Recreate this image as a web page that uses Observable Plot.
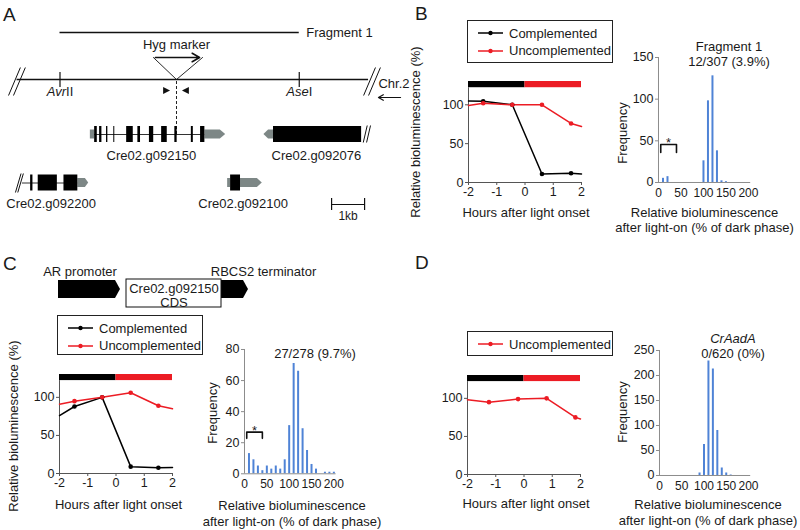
<!DOCTYPE html>
<html><head><meta charset="utf-8">
<script src="https://cdn.jsdelivr.net/npm/d3@7"></script>
<script src="https://cdn.jsdelivr.net/npm/@observablehq/plot@0.6"></script>
<style>
html,body{margin:0;padding:0;background:#fff;}
#fig{position:relative;width:800px;height:530px;overflow:hidden;background:#fff;font-family:"Liberation Sans",Arial,Helvetica,sans-serif;color:#1a1a1a;}
#fig svg{position:absolute;overflow:visible;background:transparent;max-width:none;}
.lbl{position:absolute;white-space:nowrap;line-height:1;}
.legend{position:absolute;border:1px solid #222;box-sizing:border-box;background:#fff;}
</style></head><body><div id="fig"></div>
<script>
// ================= DATA =================
// ---- line charts (relative bioluminescence, %) ----
const seriesNames = ["Complemented", "Uncomplemented"];
const hourTicks = [-2, -1, 0, 1, 2];
const bioTicks = [0, 50, 100];
const phaseNames = ["dark", "light"];
const phaseStart = [-2, 0];
const phaseEnd = [0, 2];

const bHours = [-2, -1.48, -0.45, 0.6, 1.63, 2];
const bComplemented = [105, 104.5, 100, 11, 12, 11];
const bUncomplemented = [99, 102, 100, 100, 76, 72];

const cHours = [-2, -1.47, -0.49, 0.52, 1.5, 2];
const cComplemented = [76, 88, 100, 9, 7.5, 8];
const cUncomplemented = [91, 95, 100, 106, 89, 85];

const dHours = [-2, -1.24, -0.21, 0.8, 1.82, 2];
const dUncomplemented = [98, 95, 99, 100, 75, 73];

// ---- histograms (frequency per 10 % bin) ----
const bins = [10, 20, 30, 40, 50, 60, 70, 80, 90, 100, 110, 120, 130, 140, 150, 160, 170, 180, 190, 200];
const bFreq = [5, 7, 0, 0, 0, 0, 0, 0, 0, 26, 98, 128, 38, 2, 1, 0, 0, 0, 0, 0];
const cFreq = [13, 9, 5, 2, 5, 3, 5, 3, 9, 31, 71, 66, 29, 15, 6, 3, 0, 1, 1, 1];
const dFreq = [0, 0, 0, 0, 0, 0, 0, 0, 5, 62, 229, 213, 90, 15, 5, 1, 0, 0, 0, 0];
const freqXTicks = [0, 50, 100, 150, 200];
const bFreqTicks = [0, 50, 100, 150];
const cFreqTicks = [0, 20, 40, 60, 80];
const dFreqTicks = [0, 50, 100, 150, 200, 250];
const bBracket = {from: 5, to: 40, top: 45.5, bottom: 36};
const cBracket = {from: 5, to: 40, top: 26.8, bottom: 22.8};
const bHistTitle = ["Fragment 1", "12/307 (3.9%)"];
const cHistTitle = ["27/278 (9.7%)"];
const dHistTitle = ["CrAadA", "0/620 (0%)"];

// ---- panel A gene map (kb) ----
const fragment1 = {name: "Fragment 1", start: 1.5, end: 8.75};
const chromosome = {name: "Chr.2", start: 0.2, end: 10.85};
const restrictionSites = [{italic: "Avr", roman: "II", kb: 1.5}, {italic: "Ase", roman: "I", kb: 8.75}];
const insertionKb = 5.03;
const hygArrow = {name: "Hyg marker", start: 4.39, end: 5.73};
const hygFlank = [4.33, 5.82];
const primers = [{id: "F", kb: 4.64, dir: 1}, {id: "R", kb: 5.42, dir: -1}];
const chrArrow = {start: 11.82, end: 11.15};
const scaleBar = {name: "1kb", start: 9.73, end: 10.73};
const breakMarks = [
  {x1: -0.06, y1: 95, x2: 0.30, y2: 67}, {x1: 0.09, y1: 95, x2: 0.45, y2: 67},
  {x1: 10.70, y1: 95, x2: 11.06, y2: 67}, {x1: 10.85, y1: 95, x2: 11.21, y2: 67},
  {x1: 10.69, y1: 142, x2: 10.81, y2: 125}, {x1: 10.79, y1: 142, x2: 10.91, y2: 125},
  {x1: 0.15, y1: 192, x2: 0.32, y2: 173}, {x1: 0.22, y1: 192, x2: 0.39, y2: 173}
];
const genes = [
  {name: "Cre02.g092150", row: 1, labelKb: 4.27, intron: [2.55, 5.89],
   exons: [[2.55,2.63],[2.70,2.77],[2.91,2.95],[3.13,3.16],[3.52,3.72],[3.86,3.94],[4.21,4.34],[4.58,4.75],[4.98,5.05],[5.48,5.54],[5.76,5.89]],
   utr: [[[2.42,1],[2.55,1]], [[5.89,1],[6.36,1],[6.52,0]]]},
  {name: "Cre02.g092076", row: 1, labelKb: 9.27, intron: null,
   exons: [[7.97,10.64]], utr: [[[7.68,0],[7.82,1],[7.97,1]]]},
  {name: "Cre02.g092200", row: 2, labelKb: 1.23, intron: [0.36, 2.04],
   exons: [[0.61,0.68],[0.84,1.42],[1.62,2.04]], utr: [[[2.04,1],[2.27,1],[2.37,0]]]},
  {name: "Cre02.g092100", row: 2, labelKb: 7.05, intron: null,
   exons: [[6.67,6.97]], utr: [[[6.58,1],[6.67,1]], [[6.97,1],[7.48,1],[7.63,0]]]}
];
// ---- panel C construct ----
const constructNames = ["AR promoter", "Cre02.g092150\nCDS", "RBCS2 terminator"];
const constructKinds = ["arrow", "box", "arrow"];
const constructStart = [58, 126, 221];
const constructEnd = [120, 221, 248];
const constructLabelX = [79.5, 173.5, 263];

// ================= STYLE / LAYOUT =================
const FONT = '"Liberation Sans", Arial, Helvetica, sans-serif';
const TEXT = "#1a1a1a", AXIS_LINE = "#555", AXIS_HIST = "#8c8c8c";
const BLUE = "#4f83d6", RED = "#ec1c24", UTR_GRAY = "#7d8786";
const seriesColor = {Complemented: "#000000", Uncomplemented: RED};
const phaseColor = {dark: "#000000", light: RED};
const fig = document.getElementById("fig");

function label(text, x, y, {size = 13, rotate = 0, italic = false, anchor = "middle"} = {}) {
  const d = document.createElement("div");
  d.className = "lbl"; d.textContent = text;
  d.style.left = x + "px"; d.style.top = y + "px"; d.style.fontSize = size + "px";
  d.style.fontStyle = italic ? "italic" : "normal";
  const tx = anchor === "start" ? "0" : anchor === "end" ? "-100%" : "-50%";
  d.style.transform = `translate(${tx},-50%)` + (rotate ? ` rotate(${rotate}deg)` : "");
  fig.appendChild(d);
}
function place(svg, left, top) {
  svg.style.left = left + "px"; svg.style.top = top + "px";
  fig.appendChild(svg);
}
function legend(left, top, width, height, names) {
  const box = document.createElement("div");
  box.className = "legend";
  Object.assign(box.style, {left: left + "px", top: top + "px", width: width + "px", height: height + "px"});
  names.forEach((name, i) => {
    const cy = 12 + i * 17.5;
    const c = seriesColor[name];
    const row = document.createElement("div");
    row.style.cssText = `position:absolute;left:10px;top:${cy - 8}px;height:16px;display:flex;align-items:center;font-size:13px;white-space:nowrap;`;
    row.innerHTML = `<svg width="26" height="6" style="position:static;margin-right:5px"><line x1="0" y1="3" x2="25" y2="3" stroke="${c}" stroke-width="1.5"/><circle cx="12.5" cy="3" r="2.2" fill="${c}"/></svg><span>${name}</span>`;
    box.appendChild(row);
  });
  fig.appendChild(box);
}
const phases = phaseNames.map((p, i) => ({phase: p, from: phaseStart[i], to: phaseEnd[i]}));

function lineChart(hours, seriesVals, area) {
  const rows = Object.entries(seriesVals).flatMap(([name, vals]) =>
    hours.map((h, i) => ({series: name, hour: h, value: vals[i]})));
  const ml = 34, mr = 6, mt = 2, mb = 22;
  const svg = Plot.plot({
    width: area.right - area.left + ml + mr, height: area.bottom - area.top + mt + mb,
    marginLeft: ml, marginRight: mr, marginTop: mt, marginBottom: mb,
    style: {fontFamily: FONT, fontSize: "12.5px", color: TEXT, background: "transparent", overflow: "visible"},
    x: {domain: [-2, 2], axis: null}, y: {domain: [0, 130], axis: null}, color: {type: "identity"},
    marks: [
      Plot.rect(phases, {x1: "from", x2: "to", y1: 122, y2: 130, fill: d => phaseColor[d.phase]}),
      Plot.ruleY([0], {stroke: AXIS_LINE}),
      Plot.ruleX([-2], {y1: 0, y2: 122, stroke: AXIS_LINE}),
      Plot.axisX({ticks: hourTicks, tickSize: 3, tickPadding: 2, tickFormat: d => String(d), stroke: AXIS_LINE, fill: TEXT, label: null}),
      Plot.axisY({ticks: bioTicks, tickSize: 3, tickPadding: 2, stroke: AXIS_LINE, fill: TEXT, label: null}),
      Plot.line(rows, {x: "hour", y: "value", z: "series", stroke: d => seriesColor[d.series], strokeWidth: 1.5}),
      Plot.dot(rows.filter(d => d.hour > -2 && d.hour < 2), {x: "hour", y: "value", fill: d => seriesColor[d.series], r: 2.3, stroke: "none"})
    ]
  });
  place(svg, area.left - ml, area.top - mt);
}

function histogram(freq, yTicks, ymax, area, bracket) {
  const data = bins.map((b, i) => ({bin: b, count: freq[i]})).filter(d => d.count > 0);
  const ml = 34, mr = 8, mt = 4, mb = 20;
  const marks = [
    Plot.ruleX(data, {x: "bin", y1: 0, y2: "count", stroke: BLUE, strokeWidth: 2}),
    Plot.ruleY([0], {stroke: AXIS_HIST}),
    Plot.ruleX([0], {y1: 0, y2: ymax, stroke: AXIS_HIST}),
    Plot.axisX({ticks: freqXTicks, tickSize: 0, tickPadding: 6, stroke: AXIS_HIST, fill: TEXT, label: null, fontSize: 12}),
    Plot.axisY({ticks: yTicks, tickSize: 3, tickPadding: 2, stroke: AXIS_HIST, fill: TEXT, label: null})
  ];
  if (bracket) {
    const b = bracket;
    marks.push(Plot.line([{x: b.from, y: b.bottom}, {x: b.from, y: b.top}, {x: b.to, y: b.top}, {x: b.to, y: b.bottom}],
      {x: "x", y: "y", stroke: "#111", strokeWidth: 1.6}));
    marks.push(Plot.text(["*"], {x: (b.from + b.to) / 2, y: b.top, dy: -1.5, text: d => d, fontSize: 13, fill: TEXT}));
  }
  const svg = Plot.plot({
    width: area.right - area.left + ml + mr, height: area.bottom - area.top + mt + mb,
    marginLeft: ml, marginRight: mr, marginTop: mt, marginBottom: mb,
    style: {fontFamily: FONT, fontSize: "12.5px", color: TEXT, background: "transparent", overflow: "visible"},
    x: {domain: [0, 205], axis: null}, y: {domain: [0, ymax], axis: null},
    marks
  });
  place(svg, area.left - ml, area.top - mt);
}

// ================= PANEL A =================
(function panelA() {
  const Y = {fragment: 32, hygText: 44, hygArrow: 57, chromosome: 79, siteTop: 72, siteBottom: 87, siteLabel: 91,
             primer: 90.5, primerHalf: 3.5, row1: 134, row2: 182.5, label1: 155, label2: 203.5,
             scale: 204, scaleTick: 6, scaleLabel: 216, chrText: 83, chrArrow: 97};
  const rowY = r => r === 1 ? Y.row1 : Y.row2;
  const exonHalf = 8, utrHalf = 4.5;
  const ctx = document.createElement("canvas").getContext("2d");
  const w = (t, italic) => { ctx.font = `${italic ? "italic " : ""}13px ${FONT}`; return ctx.measureText(t).width; };

  const exonRects = genes.flatMap(g => g.exons.map(([a, b]) => ({x1: a, x2: b, y1: rowY(g.row) - exonHalf, y2: rowY(g.row) + exonHalf})));
  const utrPts = genes.flatMap((g, gi) => g.utr.flatMap((shape, si) => shape.map(([kb, f]) =>
    ({id: gi + "-" + si, x: kb, y1: rowY(g.row) - f * utrHalf, y2: rowY(g.row) + f * utrHalf}))));
  const introns = genes.filter(g => g.intron).map(g => ({x1: g.intron[0], x2: g.intron[1], y: rowY(g.row)}));
  const primerLen = 0.21;
  const primerPts = primers.flatMap(p => [
    {id: p.id, x: p.kb, y1: Y.primer - Y.primerHalf, y2: Y.primer + Y.primerHalf},
    {id: p.id, x: p.kb + p.dir * primerLen, y1: Y.primer, y2: Y.primer}].sort((a, b) => a.x - b.x));
  const siteLab = restrictionSites.map(s => {
    const wi = w(s.italic, true), wr = w(s.roman, false);
    return {...s, dx: (wi + wr) / 2 - wr};
  });

  const svg = Plot.plot({
    width: 410, height: 225, margin: 0,
    style: {fontFamily: FONT, fontSize: "13px", color: TEXT, background: "transparent", overflow: "visible"},
    x: {domain: [0, 12], range: [10, 406], axis: null},
    y: {domain: [0, 225], range: [0, 225], axis: null},
    marks: [
      Plot.ruleY([fragment1], {x1: "start", x2: "end", y: Y.fragment, stroke: "#111", strokeWidth: 1.3}),
      Plot.text([fragment1], {x: "end", y: Y.fragment, dx: 7, text: "name", textAnchor: "start", fill: TEXT}),
      Plot.ruleY([chromosome], {x1: "start", x2: "end", y: Y.chromosome, stroke: "#111", strokeWidth: 1.3}),
      Plot.link(breakMarks, {x1: "x1", y1: "y1", x2: "x2", y2: "y2", stroke: "#111", strokeWidth: 1}),
      Plot.ruleX(restrictionSites, {x: "kb", y1: Y.siteTop, y2: Y.siteBottom, stroke: "#111", strokeWidth: 1.2}),
      Plot.text(siteLab, {x: "kb", y: Y.siteLabel, text: "italic", fontStyle: "italic", textAnchor: "end", fill: TEXT}),
      Plot.text(siteLab, {x: "kb", y: Y.siteLabel, text: "roman", textAnchor: "start", fill: TEXT}),
      Plot.text([hygArrow], {x: insertionKb, y: Y.hygText, text: "name", fill: TEXT}),
      Plot.arrow([hygArrow], {x1: "start", x2: "end", y1: Y.hygArrow, y2: Y.hygArrow, stroke: "#111", strokeWidth: 1.6, headLength: 8}),
      Plot.line([{x: hygFlank[0], y: Y.hygArrow}, {x: insertionKb, y: Y.chromosome}, {x: hygFlank[1], y: Y.hygArrow}],
        {x: "x", y: "y", stroke: "#111", strokeWidth: 0.9}),
      Plot.ruleX([insertionKb], {y1: Y.chromosome + 2, y2: Y.row1, stroke: "#222", strokeWidth: 1, strokeDasharray: "3,2"}),
      Plot.areaY(primerPts, {x: "x", y1: "y1", y2: "y2", z: "id", fill: "#111", curve: "linear"}),
      Plot.text([chromosome], {x: chrArrow.end, y: Y.chrText, text: "name", textAnchor: "start", fill: TEXT}),
      Plot.arrow([chrArrow], {x1: "start", x2: "end", y1: Y.chrArrow, y2: Y.chrArrow, stroke: "#111", strokeWidth: 1.2, headLength: 7}),
      Plot.ruleY(introns, {x1: "x1", x2: "x2", y: "y", stroke: "#333", strokeWidth: 1}),
      Plot.areaY(utrPts, {x: "x", y1: "y1", y2: "y2", z: "id", fill: UTR_GRAY, curve: "linear"}),
      Plot.rect(exonRects, {x1: "x1", x2: "x2", y1: "y1", y2: "y2", fill: "#000"}),
      Plot.text(genes, {x: "labelKb", y: d => d.row === 1 ? Y.label1 : Y.label2, text: "name", fill: TEXT}),
      Plot.ruleY([scaleBar], {x1: "start", x2: "end", y: Y.scale, stroke: "#111", strokeWidth: 1.2}),
      Plot.ruleX([scaleBar.start, scaleBar.end], {y1: Y.scale - Y.scaleTick, y2: Y.scale + Y.scaleTick, stroke: "#111", strokeWidth: 1.2}),
      Plot.text([scaleBar], {x: d => (d.start + d.end) / 2, y: Y.scaleLabel, text: "name", fontSize: 12, fill: TEXT})
    ]
  });
  place(svg, 0, 0);
  // shift italic/roman parts of the enzyme names so each whole word is centred on its site
  const texts = svg.querySelectorAll("g[aria-label='text']");
  [texts[1], texts[2]].forEach(g => g.querySelectorAll("text").forEach((t, i) => {
    t.setAttribute("dx", siteLab[i].dx);
  }));
})();

// ================= PANEL C construct =================
(function construct() {
  const parts = constructNames.map((n, i) => ({name: n, kind: constructKinds[i], start: constructStart[i], end: constructEnd[i], lx: constructLabelX[i]}));
  const tip = 5, top = 280, bot = 298, mid = 289;
  const arrowPts = parts.filter(p => p.kind === "arrow").flatMap(p => [
    {id: p.name, x: p.start, y1: top, y2: bot}, {id: p.name, x: p.end - tip, y1: top, y2: bot}, {id: p.name, x: p.end, y1: mid, y2: mid}]);
  const box = parts.filter(p => p.kind === "box");
  const svg = Plot.plot({
    width: 330, height: 50, margin: 0,
    style: {fontFamily: FONT, fontSize: "13px", color: TEXT, background: "transparent", overflow: "visible"},
    x: {domain: [0, 330], range: [0, 330], axis: null},
    y: {domain: [262, 312], range: [0, 50], axis: null},
    marks: [
      Plot.areaY(arrowPts, {x: "x", y1: "y1", y2: "y2", z: "id", fill: "#000", curve: "linear"}),
      Plot.rect(box, {x1: "start", x2: "end", y1: 279, y2: 307, fill: "#fff", stroke: "#111", strokeWidth: 1}),
      Plot.text(box, {x: "lx", y: 295, text: "name", lineHeight: 1.08, fill: TEXT}),
      Plot.text(parts.filter(p => p.kind === "arrow"), {x: "lx", y: 271.5, text: "name", fill: TEXT})
    ]
  });
  place(svg, 0, 262);
})();

// ================= PANEL B =================
legend(467, 20, 146, 43, seriesNames);
lineChart(bHours, {Complemented: bComplemented, Uncomplemented: bUncomplemented}, {left: 468, right: 581, top: 81, bottom: 182});
label("Relative bioluminescence (%)", 415, 131.5, {rotate: -90});
label("Hours after light onset", 526, 212);
histogram(bFreq, bFreqTicks, 150, {left: 657.5, right: 749.7, top: 57, bottom: 182}, bBracket);
label(bHistTitle[0], 729, 46);
label(bHistTitle[1], 729, 60.5);
label("Frequency", 622, 133, {rotate: -90});
label("Relative bioluminescence", 704.5, 212);
label("after light-on (% of dark phase)", 704.5, 227);

// ================= PANEL C =================
legend(57, 315, 146, 40, seriesNames);
lineChart(cHours, {Complemented: cComplemented, Uncomplemented: cUncomplemented}, {left: 59, right: 172, top: 374, bottom: 473});
label("Relative bioluminescence (%)", 13, 426, {rotate: -90});
label("Hours after light onset", 118.5, 504);
histogram(cFreq, cFreqTicks, 80, {left: 244, right: 335.6, top: 349, bottom: 473.3}, cBracket);
label(cHistTitle[0], 315, 353);
label("Frequency", 212, 412.5, {rotate: -90});
label("Relative bioluminescence", 292, 505);
label("after light-on (% of dark phase)", 292, 520.5);

// ================= PANEL D =================
legend(467, 331, 146, 25, ["Uncomplemented"]);
lineChart(dHours, {Uncomplemented: dUncomplemented}, {left: 467, right: 580, top: 375, bottom: 474});
label("Hours after light onset", 526, 503);
histogram(dFreq, dFreqTicks, 250, {left: 658.5, right: 749.7, top: 350, bottom: 475}, null);
label(dHistTitle[0], 733, 338, {italic: true});
label(dHistTitle[1], 733, 352.5);
label("Frequency", 622, 412, {rotate: -90});
label("Relative bioluminescence", 708, 504);
label("after light-on (% of dark phase)", 708, 520);

// ================= panel letters =================
label("A", 3, 14, {size: 19, anchor: "start"});
label("B", 415, 12.5, {size: 19, anchor: "start"});
label("C", 3, 263, {size: 19, anchor: "start"});
label("D", 415, 262, {size: 19, anchor: "start"});
</script></body></html>
